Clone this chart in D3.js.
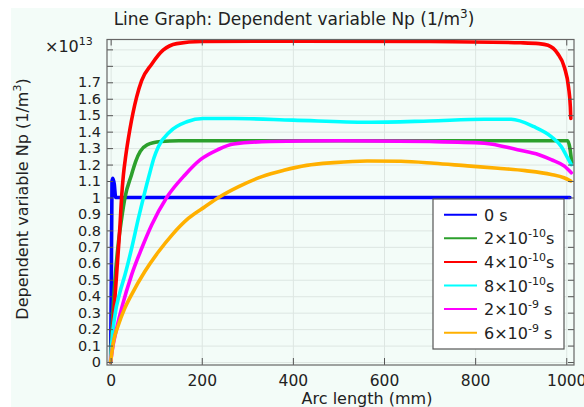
<!DOCTYPE html>
<html>
<head>
<meta charset="utf-8">
<script src="https://cdn.jsdelivr.net/npm/d3@7"></script>
<style>
  body { margin: 0; background: #fff; }
  svg { display: block; font-family: "DejaVu Sans", sans-serif; }
  .axis path { display: none; }
  .axis line { stroke: #555; }
  .grid line { stroke: #dde6e2; stroke-width: 1; }
  .grid path { display: none; }
</style>
</head>
<body>
<svg id="chart"></svg>
<script>
'use strict';

// series data: [arc length (mm), Np / 1e13]
var series0 = [[0,0],[1.5,0.5],[3,1.1],[5,1.117],[8,1.08],[11,1.0],[20,1.0],[500,1.0],[1008,1.0]];
var series2e10 = [[0,0],[3,0.2],[9.5,0.5],[16,0.7],[24,0.87],[31.5,1.0],[46,1.14],[55,1.22],[65,1.28],[80,1.32],[110,1.34],[150,1.345],[500,1.345],[900,1.345],[1003,1.345],[1008,1.3],[1012,1.21]];
var series4e10 = [[0,0],[5,0.22],[13,0.53],[20.5,0.83],[24,1.0],[28,1.137],[33,1.25],[42,1.41],[57,1.61],[68,1.71],[90,1.81],[115,1.895],[145,1.935],[200,1.948],[400,1.95],[700,1.948],[900,1.94],[940,1.935],[960,1.925],[981,1.875],[996,1.79],[1005,1.67],[1009,1.55],[1010,1.48]];
var series8e10 = [[0,0],[2,0.1],[9.5,0.286],[20,0.42],[31.5,0.53],[46,0.69],[61,0.874],[72,1.0],[86,1.15],[95,1.24],[105,1.31],[130,1.4],[167,1.46],[203,1.48],[270,1.48],[400,1.47],[563,1.457],[700,1.465],[820,1.475],[879,1.475],[929,1.43],[967,1.37],[989,1.31],[1003,1.24],[1011,1.2]];
var series2e9 = [[0,0],[4,0.08],[12,0.19],[24,0.326],[46,0.53],[68,0.69],[90,0.833],[123,1.0],[163,1.137],[197,1.23],[235,1.29],[270,1.325],[350,1.34],[500,1.345],[700,1.34],[820,1.33],[893,1.29],[940,1.26],[967,1.23],[996,1.19],[1011,1.15]];
var series6e9 = [[0,0],[6,0.12],[17,0.225],[30,0.32],[46,0.41],[75,0.55],[105,0.67],[134,0.77],[171,0.874],[207,0.944],[237,1.0],[281,1.066],[332,1.127],[380,1.165],[430,1.195],[490,1.212],[563,1.222],[637,1.22],[710,1.208],[783,1.192],[850,1.178],[910,1.163],[967,1.14],[995,1.12],[1010,1.1]];

var legendBase = ["0 s", "2\u00d710", "4\u00d710", "8\u00d710", "2\u00d710", "6\u00d710"];
var legendExp = ["", "-10", "-10", "-10", "-9", "-9"];
var legendSuffix = ["", "s", "s", "s", " s", " s"];
var colors = ["#0000ff", "#2ca02c", "#ff0000", "#00ffff", "#ff00ff", "#ffb000"];
var allSeries = [series0, series2e10, series4e10, series8e10, series2e9, series6e9];

var xTicks = [0, 200, 400, 600, 800, 1000];
var yTicks = d3.range(0, 20).map(function(i) { return i / 10; });

var W = 584, H = 407;
var svg = d3.select("#chart").attr("width", W).attr("height", H);

// background panel
svg.append("rect").attr("x", 11).attr("y", 8).attr("width", W - 11).attr("height", H - 8)
    .attr("fill", "#f3fcf8");

var pLeft = 107, pRight = 574, pTop = 39.5, pBottom = 365;

var x = d3.scaleLinear().domain([-8, 1017]).range([pLeft, pRight]);
var y = d3.scaleLinear().domain([-0.018, 1.96]).range([pBottom, pTop]);

// grid
svg.append("g").attr("class", "grid")
    .attr("transform", "translate(0," + pBottom + ")")
    .call(d3.axisBottom(x).tickValues(xTicks).tickSize(-(pBottom - pTop)).tickFormat(""));
svg.append("g").attr("class", "grid")
    .attr("transform", "translate(" + pLeft + ",0)")
    .call(d3.axisLeft(y).tickValues(yTicks).tickSize(-(pRight - pLeft)).tickFormat(""));

// lines
var line = d3.line()
    .x(function(d) { return x(d[0]); })
    .y(function(d) { return y(d[1]); })
    .curve(d3.curveMonotoneX);

svg.append("g").selectAll("path")
    .data(allSeries)
    .enter().append("path")
    .attr("d", line)
    .attr("fill", "none")
    .attr("stroke", function(d, i) { return colors[i]; })
    .attr("stroke-width", 3.6)
    .attr("stroke-linejoin", "round")
    .attr("stroke-linecap", "round");

// axes with inward ticks
var xAxis = svg.append("g").attr("class", "axis")
    .attr("transform", "translate(0," + pBottom + ")")
    .call(d3.axisBottom(x).tickValues(xTicks).tickSizeInner(-7).tickSizeOuter(0).tickPadding(10)
        .tickFormat(d3.format("d")));
xAxis.selectAll("text").attr("font-size", 15.5).attr("fill", "#222").attr("font-family", "DejaVu Sans");

svg.append("g").attr("class", "axis")
    .attr("transform", "translate(0," + pTop + ")")
    .call(d3.axisTop(x).tickValues(xTicks).tickSizeInner(-6).tickSizeOuter(0).tickFormat(""));

var yAxis = svg.append("g").attr("class", "axis")
    .attr("transform", "translate(" + pLeft + ",0)")
    .call(d3.axisLeft(y).tickValues(yTicks).tickSizeInner(-6).tickSizeOuter(0).tickPadding(6)
        .tickFormat(function(d) { return d > 1.75 ? "" : String(+d.toFixed(1)); }));
yAxis.selectAll("text").attr("font-size", 14.5).attr("fill", "#222").attr("font-family", "DejaVu Sans");

svg.append("g").attr("class", "axis")
    .attr("transform", "translate(" + pRight + ",0)")
    .call(d3.axisRight(y).tickValues(yTicks).tickSizeInner(-6).tickSizeOuter(0).tickFormat(""));

// frame
svg.append("rect").attr("x", pLeft).attr("y", pTop)
    .attr("width", pRight - pLeft).attr("height", pBottom - pTop)
    .attr("fill", "none").attr("stroke", "#666").attr("stroke-width", 1.2);

// multiplier
var mult = svg.append("text").attr("x", 45).attr("y", 52).attr("font-size", 16).attr("fill", "#222");
mult.append("tspan").text("\u00d710");
mult.append("tspan").attr("font-size", 11).attr("dy", -7).text("13");

// title
var title = svg.append("text").attr("x", 294).attr("y", 25).attr("text-anchor", "middle")
    .attr("font-size", 17).attr("fill", "#222");
title.append("tspan").text("Line Graph: Dependent variable Np (1/m");
title.append("tspan").attr("font-size", 12).attr("dy", -7).text("3");
title.append("tspan").attr("dy", 7).text(")");

// y label
var ylab = svg.append("text")
    .attr("transform", "translate(28," + 199 + ") rotate(-90)")
    .attr("text-anchor", "middle").attr("font-size", 16).attr("fill", "#222");
ylab.append("tspan").text("Dependent variable Np (1/m");
ylab.append("tspan").attr("font-size", 11).attr("dy", -7).text("3");
ylab.append("tspan").attr("dy", 7).text(")");

// x label
svg.append("text").attr("x", 367).attr("y", 404).attr("text-anchor", "middle")
    .attr("font-size", 16).attr("fill", "#222").text("Arc length (mm)");

// legend
var lg = svg.append("g");
lg.append("rect").attr("x", 433).attr("y", 199).attr("width", 131).attr("height", 150)
    .attr("fill", "#fff").attr("stroke", "#555").attr("stroke-width", 1.2);
var rows = lg.selectAll("g.row").data(legendBase).enter().append("g")
    .attr("transform", function(d, i) { return "translate(0," + (214.7 + i * 23.6) + ")"; });
rows.append("line").attr("x1", 444).attr("x2", 477).attr("y1", 0).attr("y2", 0)
    .attr("stroke", function(d, i) { return colors[i]; }).attr("stroke-width", 2);
var lt = rows.append("text").attr("x", 484).attr("y", 6).attr("font-size", 16).attr("fill", "#222");
lt.append("tspan").text(function(d) { return d; });
lt.append("tspan").attr("font-size", 11).attr("dy", -7).text(function(d, i) { return legendExp[i]; });
lt.append("tspan").attr("dy", 7).text(function(d, i) { return legendSuffix[i]; });
</script>
</body>
</html>
